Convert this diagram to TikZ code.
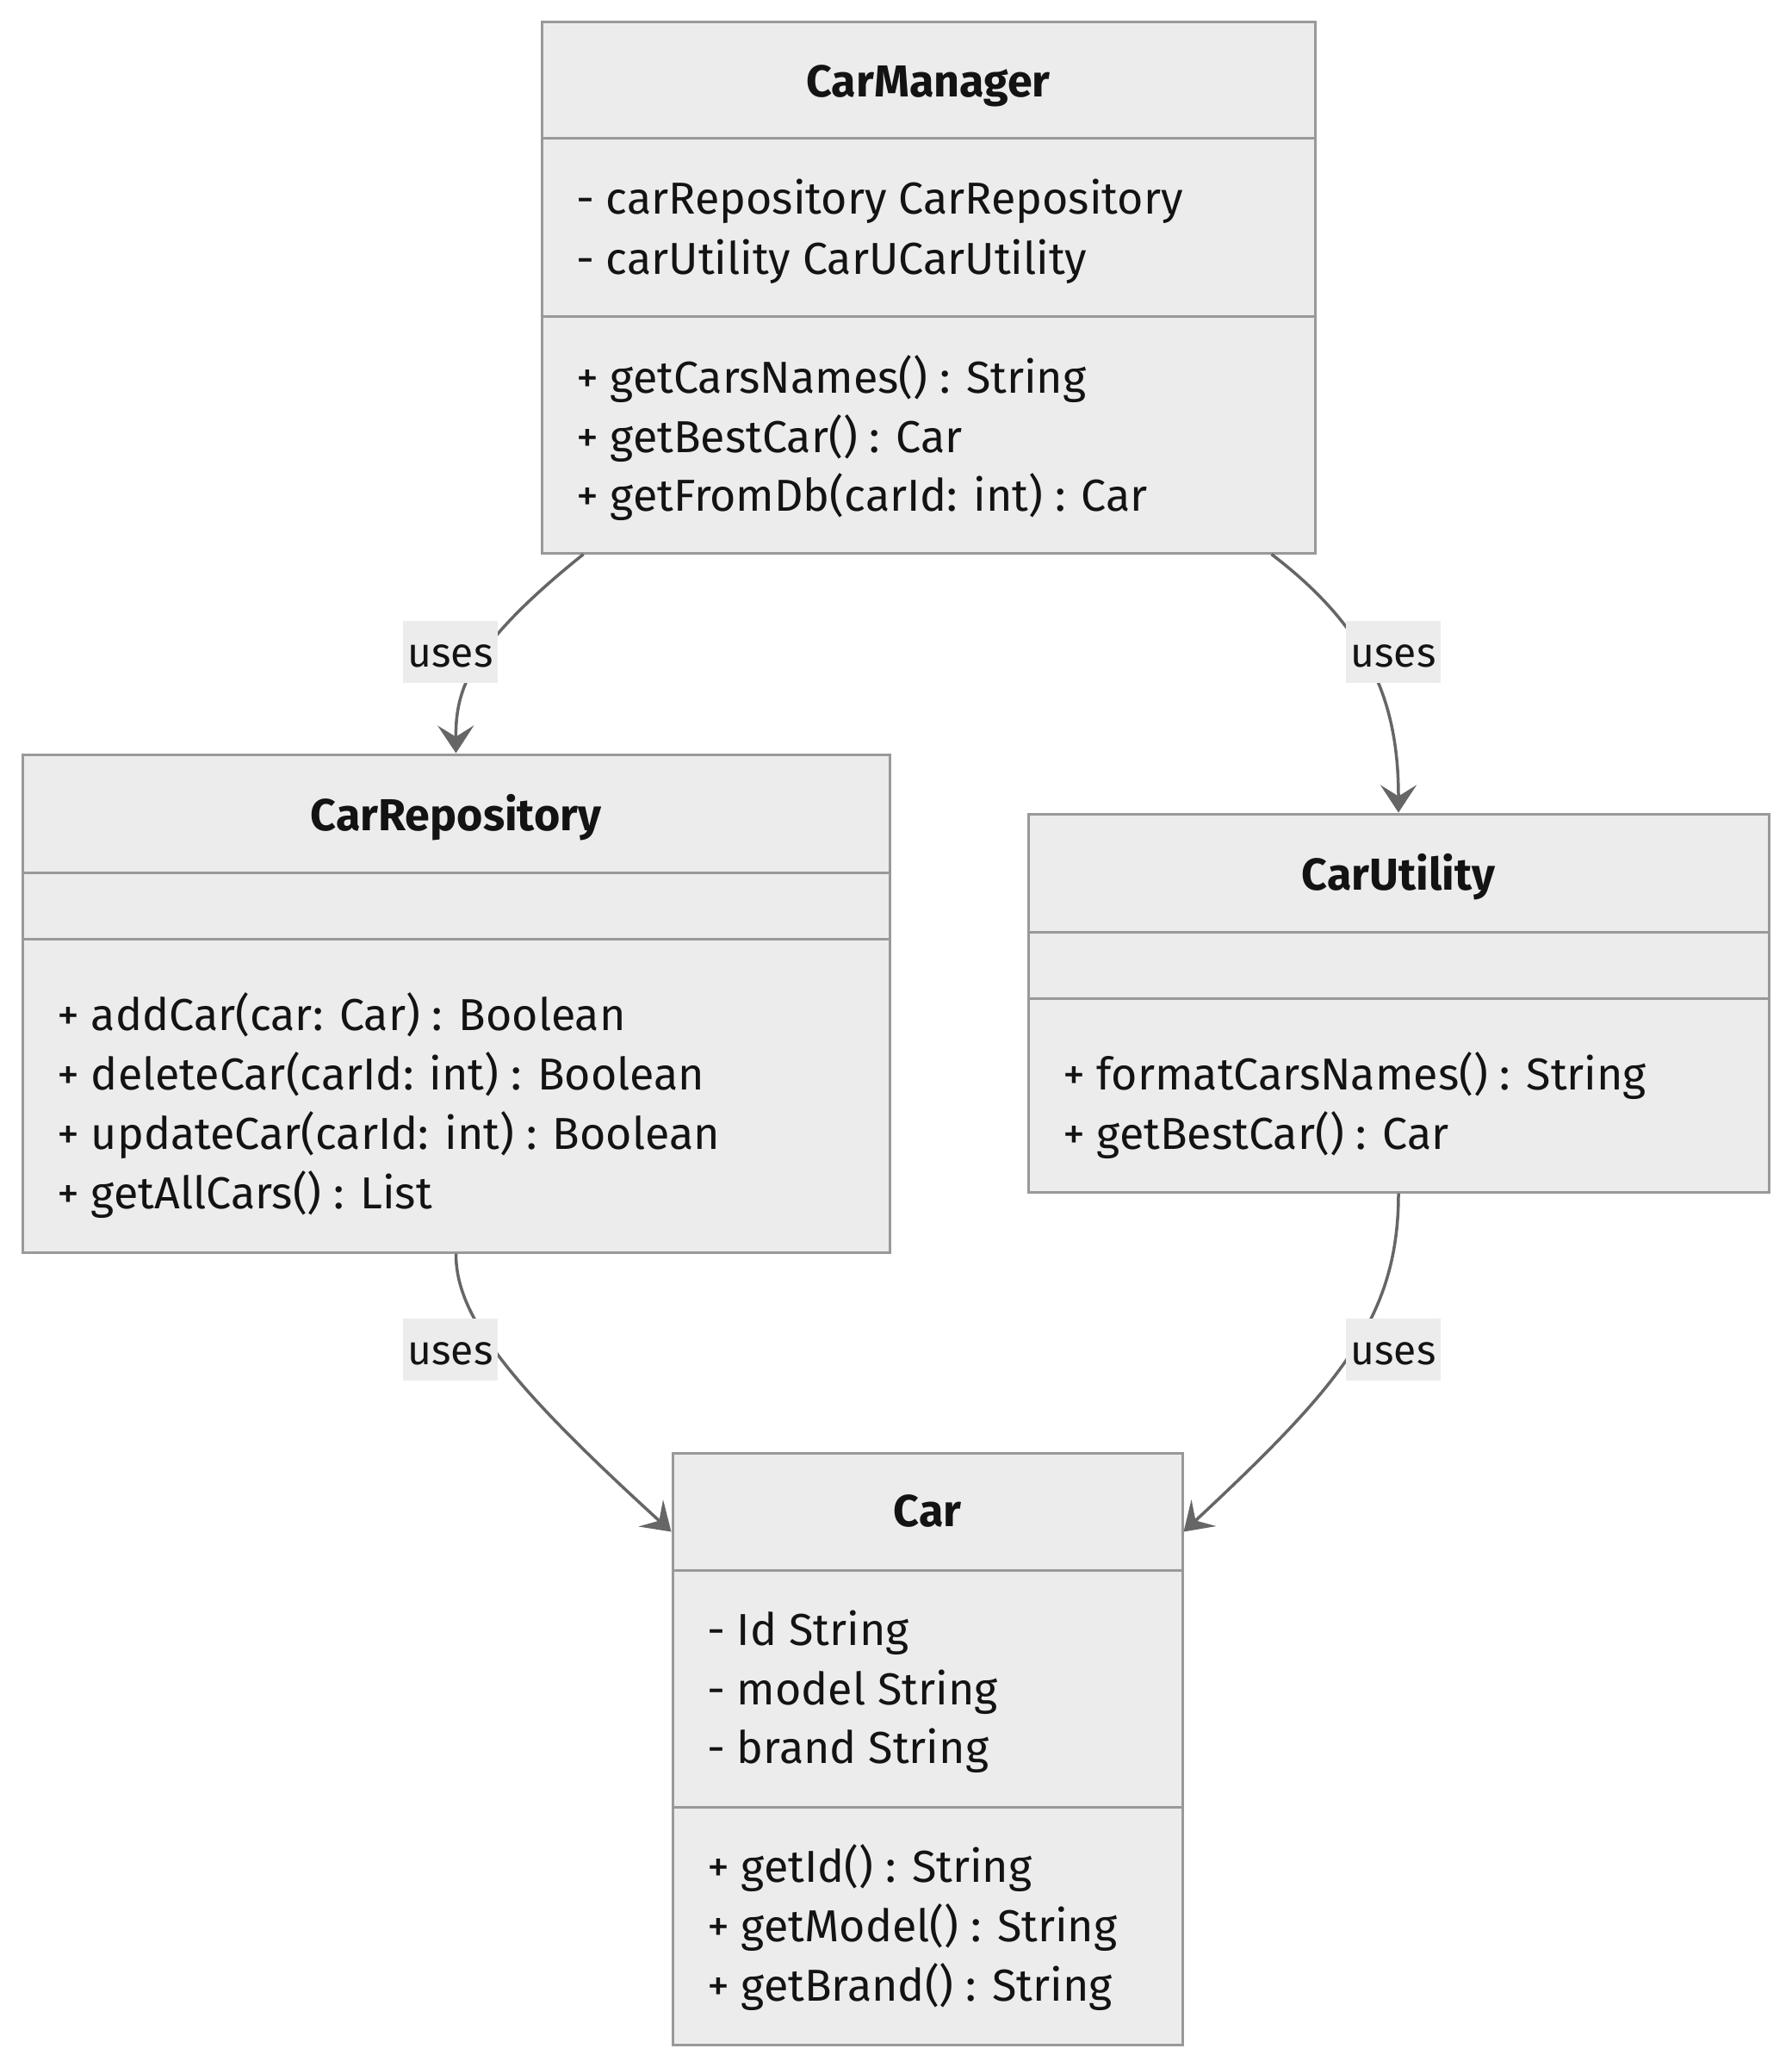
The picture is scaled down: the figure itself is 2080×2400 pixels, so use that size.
\documentclass[tikz,border=0pt]{standalone}
\usepackage{fontspec}
\setmainfont{Fira Sans}
\usetikzlibrary{arrows.meta,calc}
\definecolor{boxfill}{HTML}{ECECEC}
\definecolor{boxline}{HTML}{999999}
\definecolor{edgeline}{HTML}{666666}
\definecolor{txt}{HTML}{131313}
\begin{document}
\begin{tikzpicture}[x=1pt,y=-1pt,
  classbox/.style={draw=boxline, fill=boxfill, line width=3pt, inner sep=0pt},
  member/.style={anchor=base west, inner sep=0pt, font=\fontsize{52}{56}\selectfont, text=txt},
  clstitle/.style={anchor=base, inner sep=0pt, font=\fontsize{52}{56}\selectfont\bfseries, text=txt},
  divider/.style={draw=boxline, line width=3pt},
  usesedge/.style={draw=edgeline, line width=3.5pt, -{Stealth[length=32pt,width=42pt,inset=13pt]}},
  lbl/.style={fill=boxfill, minimum width=110pt, minimum height=72pt, inner sep=0pt, text height=34pt, text depth=0pt, font=\fontsize{48}{52}\selectfont, text=txt}
]
\useasboundingbox (0,0) rectangle (2080,2400);
\fill[white] (0,0) rectangle (2080,2400);

% ---------- CarManager ----------
\node[classbox, minimum width=898pt, minimum height=616pt] (mgr) at (1078,334) {};
\draw[divider] (mgr.west |- 0,161) -- (mgr.east |- 0,161);
\draw[divider] (mgr.west |- 0,367) -- (mgr.east |- 0,367);
\node[clstitle] (mgrT) at (1078,113) {CarManager};
\node[member] (mgrA1) at (669,249) {- carRepository CarRepository};
\node[member] (mgrA2) at (669,318) {- carUtility CarUCarUtility};
\node[member] (mgrM1) at (669,456) {+ getCarsNames() : String};
\node[member] (mgrM2) at (669,525) {+ getBestCar() : Car};
\node[member] (mgrM3) at (669,593) {+ getFromDb(carId: int) : Car};

% ---------- CarRepository ----------
\node[classbox, minimum width=1007pt, minimum height=578pt] (repo) at (529.5,1165) {};
\draw[divider] (repo.west |- 0,1013) -- (repo.east |- 0,1013);
\draw[divider] (repo.west |- 0,1090) -- (repo.east |- 0,1090);
\node[clstitle] (repoT) at (529.5,964) {CarRepository};
\node[member] (repoM1) at (66,1196) {+ addCar(car: Car) : Boolean};
\node[member] (repoM2) at (66,1265) {+ deleteCar(carId: int) : Boolean};
\node[member] (repoM3) at (66,1334) {+ updateCar(carId: int) : Boolean};
\node[member] (repoM4) at (66,1403) {+ getAllCars() : List};

% ---------- CarUtility ----------
\node[classbox, minimum width=860pt, minimum height=439pt] (util) at (1624,1164.5) {};
\draw[divider] (util.west |- 0,1082) -- (util.east |- 0,1082);
\draw[divider] (util.west |- 0,1159) -- (util.east |- 0,1159);
\node[clstitle] (utilT) at (1624,1033) {CarUtility};
\node[member] (utilM1) at (1234,1265) {+ formatCarsNames() : String};
\node[member] (utilM2) at (1234,1334) {+ getBestCar() : Car};

% ---------- Car ----------
\node[classbox, minimum width=592pt, minimum height=687pt] (car) at (1077,2030.5) {};
\draw[divider] (car.west |- 0,1823) -- (car.east |- 0,1823);
\draw[divider] (car.west |- 0,2098) -- (car.east |- 0,2098);
\node[clstitle] (carT) at (1077,1772) {Car};
\node[member] (carA1) at (821,1910) {- Id String};
\node[member] (carA2) at (821,1979) {- model String};
\node[member] (carA3) at (821,2047) {- brand String};
\node[member] (carM1) at (821,2185) {+ getId() : String};
\node[member] (carM2) at (821,2254) {+ getModel() : String};
\node[member] (carM3) at (821,2323) {+ getBrand() : String};

% ---------- connectors ----------
\draw[usesedge] ($(mgr.south west)+(50,0)$) .. controls (545,750) and (529,800) .. (repo.north);
\draw[usesedge] ($(mgr.south east)+(-52,0)$) .. controls (1590,730) and (1624,815) .. (util.north);
\draw[usesedge] (repo.south) .. controls (529,1530) and (596,1611) .. ($(car.north west)+(0,93)$);
\draw[usesedge] (util.south) .. controls (1624,1530) and (1556,1609) .. ($(car.north east)+(0,93)$);

% ---------- labels ----------
\node[lbl] (l1) at (523,757) {uses};
\node[lbl] (l2) at (1618,757) {uses};
\node[lbl] (l3) at (523,1567) {uses};
\node[lbl] (l4) at (1618,1567) {uses};
\end{tikzpicture}
\end{document}
